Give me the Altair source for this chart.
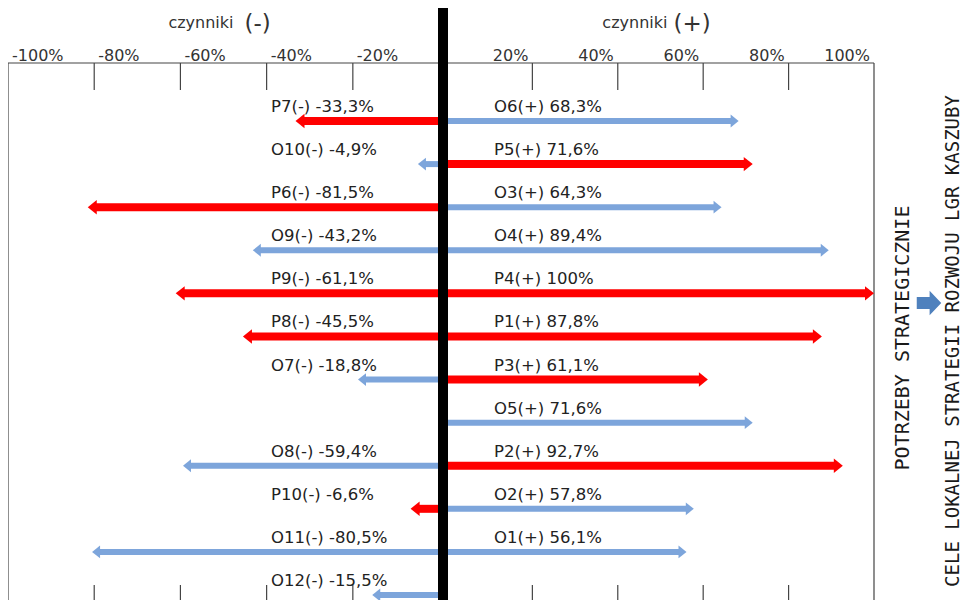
import altair as alt
import pandas as pd

# ---- data ----
rows = list(range(1, 13))
left_names = ["P7", "O10", "P6", "O9", "P9", "P8", "O7", None, "O8", "P10", "O11", "O12"]
left_values = [-33.3, -4.9, -81.5, -43.2, -61.1, -45.5, -18.8, None, -59.4, -6.6, -80.5, -15.5]
right_names = ["O6", "P5", "O3", "O4", "P4", "P1", "P3", "O5", "P2", "O2", "O1", None]
right_values = [68.3, 71.6, 64.3, 89.4, 100, 87.8, 61.1, 71.6, 92.7, 57.8, 56.1, None]
tick_values = [-100, -80, -60, -40, -20, 20, 40, 60, 80, 100]
stub_values = [-80, -60, -40, -20, 20, 40, 60, 80]
side_titles = ["czynniki", "czynniki"]
side_signs = ["(-)", "(+)"]
side_centers = [-50, 50]
right_text_1 = "POTRZEBY STRATEGICZNIE"
right_text_2 = "CELE LOKALNEJ STRATEGII ROZWOJU LGR KASZUBY"


def fmt(v):
    s = ("%.1f" % v).replace(".", ",")
    if s.endswith(",0"):
        s = s[:-2]
    return s


recs = []
for r, n, v in zip(rows, left_names, left_values):
    if n is not None:
        recs.append(dict(row=r, name=n, value=v, zero=0, side="L", kind=n[0],
                         label=f"{n}(-) {fmt(v)}%"))
for r, n, v in zip(rows, right_names, right_values):
    if n is not None:
        recs.append(dict(row=r, name=n, value=v, zero=0, side="R", kind=n[0],
                         label=f"{n}(+) {fmt(v)}%"))
df = pd.DataFrame(recs)
stubs_df = pd.DataFrame({"t": stub_values})
ticks_df = pd.DataFrame({"t": tick_values, "lab": [f"{v}%" for v in tick_values]})
side_df = pd.DataFrame({"c": side_centers, "title": side_titles, "sign": side_signs})
frame_df = pd.DataFrame({"a": [min(tick_values)], "b": [max(tick_values)], "zero": [0]})
edge_df = pd.DataFrame({"e": [min(tick_values), max(tick_values)]})
txt_df = pd.DataFrame({"t": [right_text_1], "u": [right_text_2]})

RED = "#ff0000"
BLUE = "#7da5db"
FONT = "DejaVu Sans"
GRID = "#444444"

xs = alt.Scale(domain=[-100, -0.01, 0.01, 100], range=[0, 431, 439, 866], nice=False, zero=False)
ys = alt.Scale(type="point", domain=rows, range=[58, 532], padding=0)
color_s = alt.Scale(domain=["P", "O"], range=[RED, BLUE])
width_s = alt.Scale(domain=["P", "O"], range=[8, 6])
size_s = alt.Scale(domain=["P", "O"], range=[324, 256])

PH = 537  # plot height


def X(field):
    return alt.X(field, type="quantitative", scale=xs, axis=None)


# frame
frame_top = alt.Chart(frame_df).mark_rule(color=GRID, strokeWidth=1.2).encode(
    x=X("a"), x2="b", y=alt.value(0))
frame_lr = alt.Chart(edge_df).mark_rule(color=GRID, strokeWidth=1.2).encode(
    x=X("e"), y=alt.value(0), y2=alt.value(PH))

# grid stubs top / bottom
stubs_top = alt.Chart(stubs_df).mark_rule(color=GRID, strokeWidth=1.2).encode(
    x=X("t"), y=alt.value(0), y2=alt.value(27))
stubs_bot = alt.Chart(stubs_df).mark_rule(color=GRID, strokeWidth=1.2).encode(
    x=X("t"), y=alt.value(522), y2=alt.value(PH))

# tick labels
tl_neg = alt.Chart(ticks_df).transform_filter("datum.t < 0").mark_text(
    align="left", baseline="alphabetic", dx=4, font=FONT, fontSize=16, color="#333333").encode(
    x=X("t"), y=alt.value(-2), text="lab:N")
tl_pos = alt.Chart(ticks_df).transform_filter("datum.t > 0").mark_text(
    align="right", baseline="alphabetic", dx=-4, font=FONT, fontSize=16, color="#333333").encode(
    x=X("t"), y=alt.value(-2), text="lab:N")

y_enc = alt.Y("row:O", scale=ys, axis=None)
col_enc = alt.Color("kind:N", scale=color_s, legend=None)
sw_enc = alt.StrokeWidth("kind:N", scale=width_s, legend=None)
size_enc = alt.Size("kind:N", scale=size_s, legend=None)

base = alt.Chart(df)
shaft_r = base.transform_filter("datum.side == 'R'").mark_rule(x2Offset=-7).encode(
    x=X("zero"), x2="value", y=y_enc, color=col_enc, strokeWidth=sw_enc)
shaft_l = base.transform_filter("datum.side == 'L'").mark_rule(x2Offset=7).encode(
    x=X("zero"), x2="value", y=y_enc, color=col_enc, strokeWidth=sw_enc)

head_r = base.transform_filter("datum.side == 'R'").mark_point(
    shape="M-1,-0.8L0,0L-1,0.8Z", filled=True, opacity=1, strokeWidth=0).encode(
    x=X("value"), y=y_enc, color=col_enc, size=size_enc)
head_l = base.transform_filter("datum.side == 'L'").mark_point(
    shape="M1,-0.8L0,0L1,0.8Z", filled=True, opacity=1, strokeWidth=0).encode(
    x=X("value"), y=y_enc, color=col_enc, size=size_enc)

center_bar = alt.Chart(frame_df).mark_rule(color="#000000", strokeWidth=10).encode(
    x=X("zero"), y=alt.value(-57), y2=alt.value(PH))

lab_l = base.transform_filter("datum.side == 'L'").mark_text(
    align="left", baseline="alphabetic", dx=-172, dy=-9, font=FONT, fontSize=16.5,
    color="#222222").encode(x=X("zero"), y=y_enc, text="label:N")
lab_r = base.transform_filter("datum.side == 'R'").mark_text(
    align="left", baseline="alphabetic", dx=51, dy=-9, font=FONT, fontSize=16.5,
    color="#222222").encode(x=X("zero"), y=y_enc, text="label:N")

cz_l = alt.Chart(side_df).transform_filter("datum.c < 0").mark_text(
    align="right", baseline="alphabetic", dx=10, font=FONT, fontSize=16, color="#333333").encode(
    x=X("c"), y=alt.value(-35), text="title:N")
cz_ls = alt.Chart(side_df).transform_filter("datum.c < 0").mark_text(
    align="left", baseline="alphabetic", dx=21, font=FONT, fontSize=23, color="#333333").encode(
    x=X("c"), y=alt.value(-32), text="sign:N")
cz_r = alt.Chart(side_df).transform_filter("datum.c > 0").mark_text(
    align="right", baseline="alphabetic", dx=7, font=FONT, fontSize=16, color="#333333").encode(
    x=X("c"), y=alt.value(-35), text="title:N")
cz_rs = alt.Chart(side_df).transform_filter("datum.c > 0").mark_text(
    align="left", baseline="alphabetic", dx=13, font=FONT, fontSize=23, color="#333333").encode(
    x=X("c"), y=alt.value(-32), text="sign:N")

rt1 = alt.Chart(txt_df).mark_text(
    angle=270, align="center", baseline="middle", font="DejaVu Sans Mono", fontSize=20,
    color="#1a1a1a").encode(x=alt.value(895), y=alt.value(275), text="t:N")
rt2 = alt.Chart(txt_df).mark_text(
    angle=270, align="center", baseline="middle", font="DejaVu Sans Mono", fontSize=19,
    color="#1a1a1a").encode(x=alt.value(945), y=alt.value(278), text="u:N")
block_arrow = alt.Chart(txt_df).mark_point(
    shape="M-1,-0.48L0.05,-0.48L0.05,-1L1,0L0.05,1L0.05,0.48L-1,0.48Z",
    filled=True, opacity=1, strokeWidth=0, size=600, color="#4f81bd").encode(
    x=alt.value(921), y=alt.value(240))

chart = alt.layer(
    frame_top, frame_lr, stubs_top, stubs_bot, tl_neg, tl_pos,
    shaft_r, shaft_l, head_r, head_l, center_bar,
    lab_l, lab_r, cz_l, cz_ls, cz_r, cz_rs, rt1, rt2, block_arrow,
).properties(
    width=956, height=PH,
    autosize=alt.AutoSizeParams(type="none"),
    padding={"left": 0, "top": 55, "right": 0, "bottom": 0},
    background="white",
).configure_view(stroke=None)

chart.save("out.html", embed_options={"renderer": "svg", "actions": False})
